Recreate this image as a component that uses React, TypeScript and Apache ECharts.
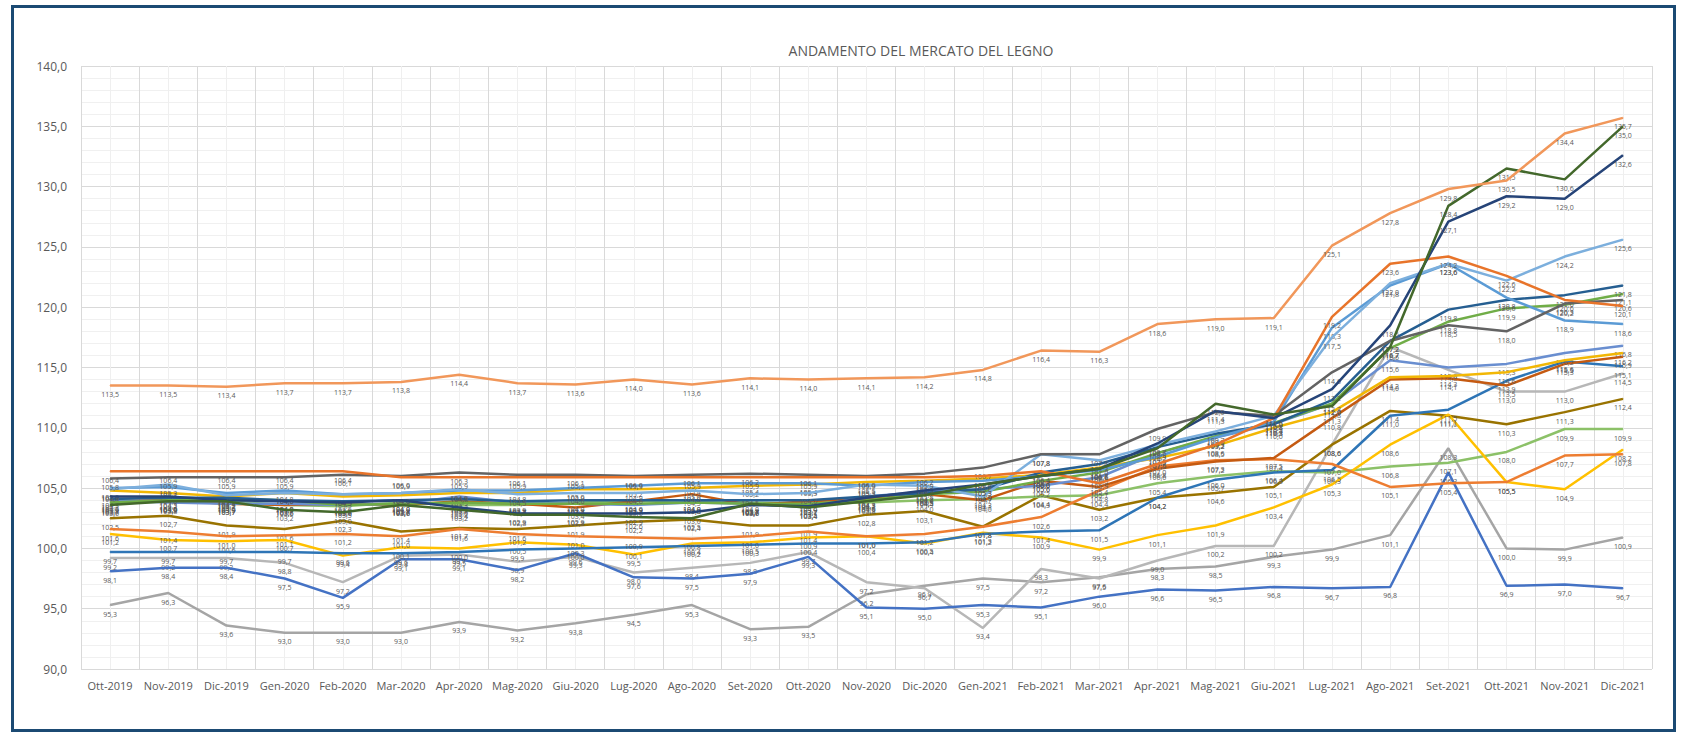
import React, { useEffect, useRef } from 'react';
import * as echarts from 'echarts';

const categories = [
  'Ott-2019', 'Nov-2019', 'Dic-2019', 'Gen-2020', 'Feb-2020', 'Mar-2020', 'Apr-2020', 'Mag-2020', 'Giu-2020',
  'Lug-2020', 'Ago-2020', 'Set-2020', 'Ott-2020', 'Nov-2020', 'Dic-2020', 'Gen-2021', 'Feb-2021', 'Mar-2021',
  'Apr-2021', 'Mag-2021', 'Giu-2021', 'Lug-2021', 'Ago-2021', 'Set-2021', 'Ott-2021', 'Nov-2021', 'Dic-2021',
];

const yTicks = { min: 90, max: 140, step: 5 };

const s01 = [113.5, 113.5, 113.4, 113.7, 113.7, 113.8, 114.4, 113.7, 113.6, 114.0, 113.6, 114.1, 114.0, 114.1, 114.2, 114.8, 116.4, 116.3, 118.6, 119.0, 119.1, 125.1, 127.8, 129.8, 130.5, 134.4, 135.7];
const s02 = [95.3, 96.3, 93.6, 93.0, 93.0, 93.0, 93.9, 93.2, 93.8, 94.5, 95.3, 93.3, 93.5, 96.2, 96.9, 97.5, 97.2, 97.6, 98.3, 98.5, 99.3, 99.9, 101.1, 108.3, 100.0, 99.9, 100.9];
const s03 = [99.2, 99.2, 99.2, 98.8, 97.2, 99.4, 99.5, 98.9, 99.3, 98.0, 98.4, 98.8, 99.7, 97.2, 96.7, 93.4, 98.3, 97.5, 99.0, 100.2, 100.2, 108.6, 116.7, 114.8, 113.0, 113.0, 114.5];
const s04 = [98.1, 98.4, 98.4, 97.5, 95.9, 99.1, 99.1, 98.2, 99.6, 97.6, 97.5, 97.9, 99.3, 95.1, 95.0, 95.3, 95.1, 96.0, 96.6, 96.5, 96.8, 96.7, 96.8, 106.3, 96.9, 97.0, 96.7];
const s05 = [102.5, 102.7, 101.9, 101.6, 102.3, 101.4, 101.7, 101.6, 101.9, 102.2, 102.4, 101.9, 101.9, 102.8, 103.1, 101.8, 104.4, 103.2, 104.2, 104.6, 105.1, 108.6, 111.4, 111.0, 110.3, 111.3, 112.4];
const s06 = [103.7, 103.9, 103.9, 103.6, 103.5, 103.8, 103.6, 103.6, 103.8, 103.9, 104.0, 103.8, 103.7, 103.8, 104.0, 104.1, 104.3, 104.4, 105.4, 106.0, 106.4, 106.3, 106.8, 107.1, 108.0, 109.9, 109.9];
const s07 = [101.2, 100.7, 100.6, 100.7, 99.4, 100.1, 100.0, 100.5, 100.3, 99.5, 100.4, 100.5, 100.9, 101.0, 100.4, 101.3, 100.9, 99.9, 101.1, 101.9, 103.4, 105.3, 108.6, 111.1, 105.5, 104.9, 108.2];
const s08 = [99.7, 99.7, 99.7, 99.7, 99.6, 99.6, 99.7, 99.9, 100.0, 100.1, 100.2, 100.3, 100.4, 100.4, 100.5, 101.2, 101.4, 101.5, 104.2, 105.7, 106.3, 106.5, 111.0, 111.5, 113.9, 115.5, 115.1];
const s09 = [101.6, 101.4, 101.0, 101.1, 101.2, 101.0, 101.6, 101.2, 101.0, 100.9, 100.8, 101.0, 101.4, 101.0, 101.2, 101.8, 102.6, 104.8, 106.8, 107.3, 107.4, 107.0, 105.1, 105.4, 105.5, 107.7, 107.8];
const s10 = [106.4, 106.4, 106.4, 106.4, 106.4, 105.9, 105.9, 105.9, 105.9, 105.9, 105.9, 105.9, 105.9, 105.9, 105.9, 106.0, 106.4, 105.4, 107.0, 108.6, 110.8, 119.2, 123.6, 124.2, 122.6, 120.6, 120.1];
const s11 = [103.9, 104.0, 103.7, 103.6, 103.7, 103.6, 103.9, 103.7, 103.4, 103.9, 104.5, 103.6, 103.9, 104.1, 104.5, 104.0, 105.6, 105.1, 106.6, 107.2, 107.5, 110.8, 114.0, 114.1, 113.5, 115.3, 115.9];
const s12 = [105.8, 105.9, 105.9, 105.9, 106.1, 106.0, 106.3, 106.1, 106.1, 106.0, 106.1, 106.2, 106.1, 106.0, 106.2, 106.7, 107.8, 107.8, 109.9, 111.3, 111.0, 114.6, 117.2, 118.5, 118.0, 120.3, 120.6];
const s13 = [104.9, 105.3, 104.4, 104.6, 104.5, 104.6, 104.9, 104.5, 104.6, 104.6, 104.8, 104.5, 104.6, 105.3, 105.2, 104.3, 107.8, 107.3, 108.6, 109.7, 111.0, 117.5, 122.0, 123.6, 122.2, 124.2, 125.6];
const s14 = [105.0, 105.1, 104.6, 104.8, 104.5, 104.6, 104.8, 104.8, 105.0, 105.2, 105.4, 105.4, 105.4, 105.2, 105.5, 105.6, 106.0, 106.5, 107.6, 109.2, 110.5, 118.3, 121.8, 123.6, 120.8, 118.9, 118.6];
const s15 = [104.8, 104.6, 104.3, 104.6, 104.3, 104.4, 104.6, 104.6, 104.9, 104.9, 105.0, 105.2, 105.3, 105.5, 105.6, 105.8, 106.1, 106.7, 107.5, 108.5, 110.0, 111.3, 114.2, 114.3, 114.6, 115.6, 116.2];
const s16 = [104.3, 104.3, 104.0, 103.9, 103.8, 104.0, 103.4, 102.9, 102.9, 102.9, 103.0, 103.6, 103.5, 104.2, 104.8, 105.3, 106.0, 106.6, 108.7, 111.4, 110.8, 113.2, 118.5, 127.1, 129.2, 129.0, 132.6];
const s17 = [103.6, 103.9, 103.9, 103.2, 103.0, 103.6, 103.2, 102.8, 102.8, 102.6, 102.5, 103.7, 103.4, 103.9, 104.4, 105.3, 106.0, 106.6, 108.3, 112.0, 111.1, 111.8, 116.7, 128.4, 131.5, 130.6, 135.0];
const s18 = [104.1, 104.2, 104.2, 104.0, 103.9, 104.0, 104.1, 103.9, 104.0, 104.0, 104.0, 104.0, 104.0, 104.3, 104.6, 104.9, 106.3, 107.0, 108.4, 109.5, 110.3, 112.3, 117.2, 119.8, 120.6, 121.0, 121.8];
const s19 = [103.8, 104.0, 104.1, 104.0, 103.6, 103.7, 103.8, 103.7, 103.7, 103.7, 103.8, 103.7, 103.7, 104.0, 104.5, 104.7, 105.6, 106.3, 107.9, 109.3, 110.4, 112.0, 116.6, 118.8, 119.9, 120.2, 121.1];
const s20 = [104.0, 103.8, 103.7, 103.7, 103.6, 103.7, 104.3, 103.8, 103.7, 103.6, 103.8, 103.7, 103.4, 104.3, 104.7, 104.9, 105.2, 105.9, 107.9, 109.2, 110.3, 112.0, 115.6, 115.0, 115.3, 116.2, 116.8];

const seriesData = [s02, s03, s04, s05, s06, s07, s08, s09, s11, s20, s15, s19, s18, s14, s13, s12, s10, s16, s17, s01];
const seriesColors = [
  '#A5A5A5', '#B7B7B7', '#4472C4', '#997300', '#8CC168', '#FFC000', '#2E75B6', '#ED7D31', '#C55A11', '#698ED0',
  '#F2B705', '#70AD47', '#255E91', '#5B9BD5', '#7CAFDD', '#636363', '#E8742A', '#264478', '#43682B', '#F1975A',
];

const fmt = (v: number) => v.toFixed(1).replace('.', ',');

export default function App() {
  const ref = useRef<HTMLDivElement>(null);

  useEffect(() => {
    document.body.style.margin = '0';
    const chart = echarts.init(ref.current as HTMLDivElement, null, { renderer: 'svg' });
    const font = 'Open Sans';
    chart.setOption({
      animation: false,
      backgroundColor: '#ffffff',
      grid: { left: 81, right: 33, top: 66, bottom: 64 },
      graphic: [
        {
          type: 'rect',
          shape: { x: 12.5, y: 6.5, width: 1662, height: 724 },
          style: { fill: 'none', stroke: '#1B4A73', lineWidth: 3 },
          z: 100,
        },
        {
          type: 'text',
          x: 921,
          y: 50,
          style: {
            text: 'ANDAMENTO DEL MERCATO DEL LEGNO',
            fill: '#595959',
            font: `14px "${font}"`,
            textAlign: 'center',
            textVerticalAlign: 'middle',
          },
        },
      ],
      xAxis: [
        {
          type: 'category',
          data: categories,
          boundaryGap: true,
          axisLine: { show: false },
          axisTick: { show: false },
          axisLabel: { interval: 0, color: '#595959', fontSize: 11, fontFamily: font, margin: 11 },
          splitLine: { show: true, lineStyle: { color: '#d9d9d9', width: 1 } },
          z: 2,
        },
        {
          type: 'value',
          min: 0,
          max: 54,
          interval: 1,
          position: 'bottom',
          axisLine: { show: false },
          axisTick: { show: false },
          axisLabel: { show: false },
          splitLine: { show: true, lineStyle: { color: '#efefef', width: 1 } },
          z: 1,
        },
      ],
      yAxis: {
        type: 'value',
        min: yTicks.min,
        max: yTicks.max,
        interval: yTicks.step,
        axisLine: { show: false },
        axisTick: { show: false },
        axisLabel: { color: '#595959', fontSize: 12, fontFamily: font, margin: 14, formatter: (v: number) => fmt(v) },
        splitLine: { show: true, lineStyle: { color: '#d9d9d9', width: 1 } },
        minorTick: { show: false, splitNumber: 5 },
        minorSplitLine: { show: true, lineStyle: { color: '#f0f0f0', width: 1 } },
      },
      series: seriesData.map((d, i) => ({
        type: 'line',
        name: 'S' + (i + 1),
        data: d,
        xAxisIndex: 0,
        yAxisIndex: 0,
        symbol: 'circle',
        symbolSize: 1,
        showSymbol: true,
        showAllSymbol: true,
        lineStyle: { width: 2.5, color: seriesColors[i] },
        itemStyle: { color: seriesColors[i] },
        emphasis: { disabled: true },
        label: {
          show: true,
          position: 'bottom',
          distance: 5,
          fontSize: 7,
          fontFamily: font,
          color: '#595959',
          formatter: (p: any) => fmt(p.value as number),
        },
        z: 3 + i,
      })),
    });
    return () => chart.dispose();
  }, []);

  return <div ref={ref} style={{ width: 1685, height: 733 }} />;
}
